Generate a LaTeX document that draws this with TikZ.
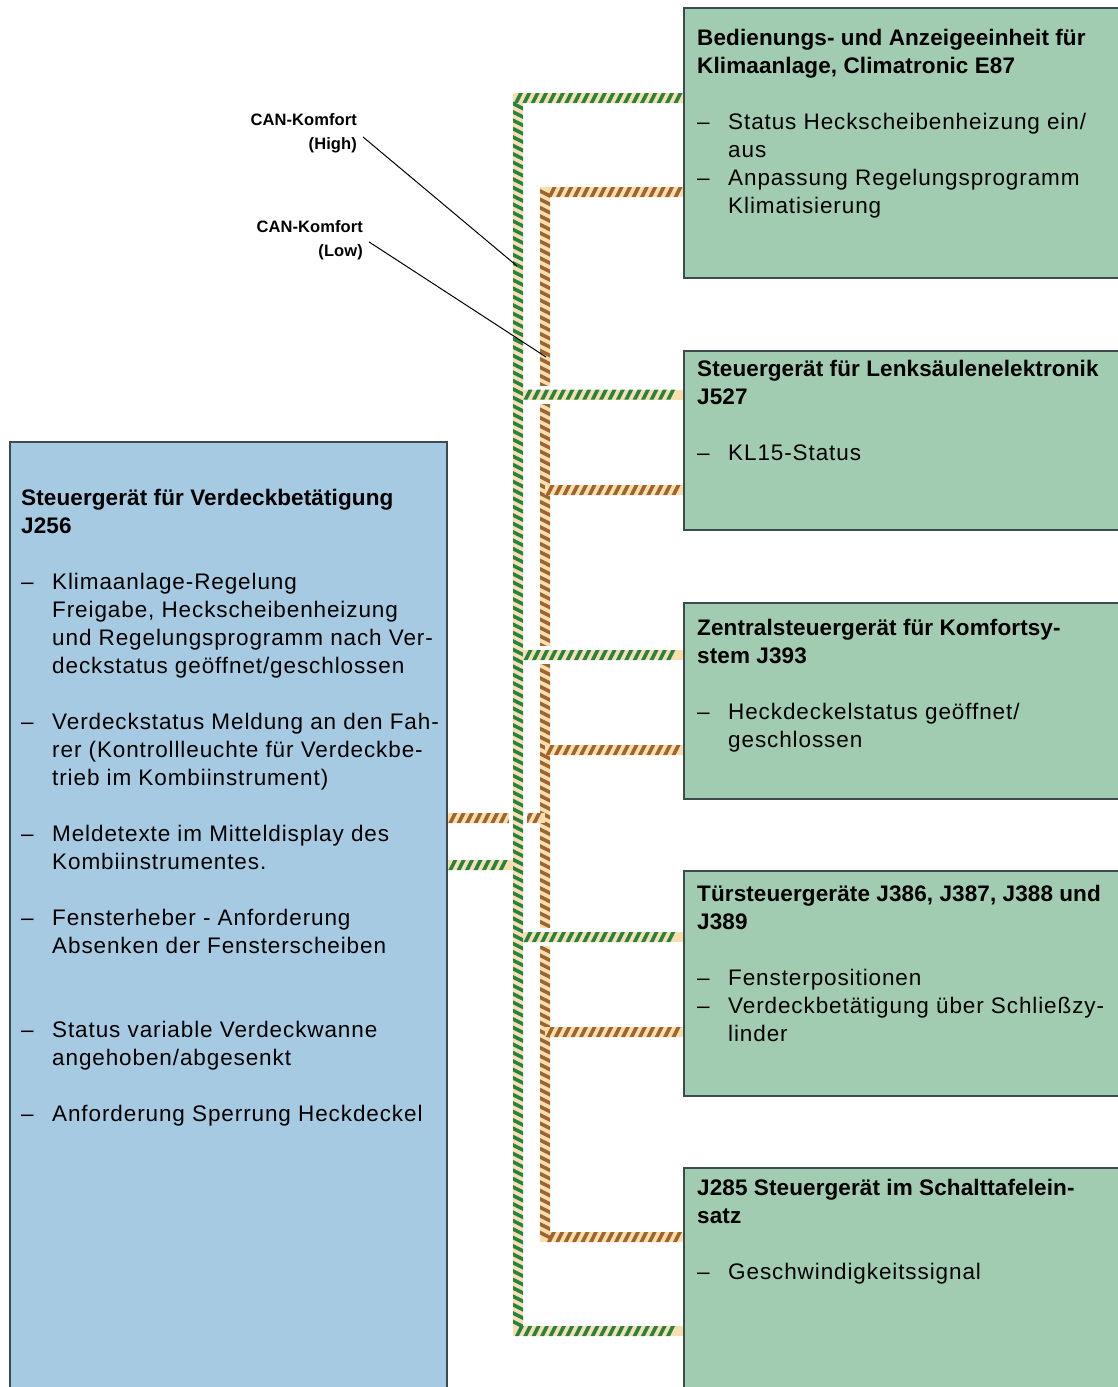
\documentclass[tikz,border=0pt]{standalone}
\usepackage{fontspec}
\setmainfont{Liberation Sans}[LetterSpace=4, BoldFeatures={LetterSpace=0.5}]
\usepackage{xcolor}
\usepackage{tikz}
\usetikzlibrary{positioning,decorations.markings}

\definecolor{cangreen}{RGB}{38,132,66}
\definecolor{canbrown}{RGB}{160,100,45}
\definecolor{canbeige}{RGB}{250,222,176}
\definecolor{ecugreen}{RGB}{161,204,177}
\definecolor{ecublue}{RGB}{165,202,225}
\definecolor{eculine}{RGB}{60,75,78}

\newcommand{\fl}{\rule{0pt}{21pt}}
\newcommand{\itm}{\makebox[31pt][l]{–}}
\newcommand{\cnt}{\hspace*{31pt}}

\pgfdeclarelayer{buslayer}
\pgfsetlayers{buslayer,main}

\begin{document}
\begin{tikzpicture}[
    x=1pt, y=-1pt,
    ecu/.style={rectangle, draw=eculine, line width=1.8pt, anchor=north west, inner sep=0pt},
    ecutxt/.style={anchor=north west, inner sep=0pt, align=left, font=\fontsize{22.5}{28}\selectfont},
    canlbl/.style={anchor=north east, inner sep=0pt, align=right, font=\fontsize{16.5}{24}\selectfont\bfseries},
    leader/.style={draw=black, line width=1pt},
    hibus/.style={draw=canbeige, line width=10pt, preaction={draw=white, line width=18pt},
        postaction={decorate, decoration={markings, mark=between positions 5pt and -5pt step 8.4pt with
        {\fill[cangreen] (-4.5pt,-5pt) -- (-0.5pt,-5pt) -- (4.5pt,5pt) -- (0.5pt,5pt) -- cycle;}}}},
    lobus/.style={draw=canbeige, line width=10pt,
        postaction={decorate, decoration={markings, mark=between positions 5pt and -5pt step 8.4pt with
        {\fill[canbrown] (-4.5pt,-5pt) -- (-0.5pt,-5pt) -- (4.5pt,5pt) -- (0.5pt,5pt) -- cycle;}}}}
]

\path[use as bounding box] (0,0) rectangle (1117,1387);

% Control units on the right
\node[ecu, fill=ecugreen, minimum width=460pt, minimum height=270pt] (e87) at (683,7) {};
\node[ecu, fill=ecugreen, minimum width=460pt, minimum height=179pt] (j527) at (683,350) {};
\node[ecu, fill=ecugreen, minimum width=460pt, minimum height=196pt] (j393) at (683,602) {};
\node[ecu, fill=ecugreen, minimum width=460pt, minimum height=225pt] (j386) at (683,870) {};
\node[ecu, fill=ecugreen, minimum width=460pt, minimum height=250pt] (j285) at (683,1167) {};

% Control unit J256 on the left
\node[ecu, fill=ecublue, minimum width=437pt, minimum height=980pt] (j256) at (9,441) {};

% Texts
\node[ecutxt] (e87-txt) at (697,24.5) {\fl\textbf{Bedienungs- und Anzeigeeinheit für}\\
    \textbf{Klimaanlage, Climatronic E87}\\[28pt]
    \itm Status Heckscheibenheizung ein/\\
    \cnt aus\\
    \itm Anpassung Regelungsprogramm\\
    \cnt Klimatisierung};
\node[ecutxt] (j527-txt) at (697,355) {\fl\textbf{Steuergerät für Lenksäulenelektronik}\\
    \textbf{J527}\\[28pt]
    \itm KL15-Status};
\node[ecutxt] (j393-txt) at (697,614) {\fl\textbf{Zentralsteuergerät für Komfortsy-}\\
    \textbf{stem J393}\\[28pt]
    \itm Heckdeckelstatus geöffnet/\\
    \cnt geschlossen};
\node[ecutxt] (j386-txt) at (697,880) {\fl\textbf{Türsteuergeräte J386, J387, J388 und}\\
    \textbf{J389}\\[28pt]
    \itm Fensterpositionen\\
    \itm Verdeckbetätigung über Schließzy-\\
    \cnt linder};
\node[ecutxt] (j285-txt) at (697,1174) {\fl\textbf{J285 Steuergerät im Schalttafelein-}\\
    \textbf{satz}\\[28pt]
    \itm Geschwindigkeitssignal};
\node[ecutxt] (j256-txt) at (21,484) {\fl\textbf{Steuergerät für Verdeckbetätigung}\\
    \textbf{J256}\\[28pt]
    \itm Klimaanlage-Regelung\\
    \cnt Freigabe, Heckscheibenheizung\\
    \cnt und Regelungsprogramm nach Ver-\\
    \cnt deckstatus geöffnet/geschlossen\\[28pt]
    \itm Verdeckstatus Meldung an den Fah-\\
    \cnt rer (Kontrollleuchte für Verdeckbe-\\
    \cnt trieb im Kombiinstrument)\\[28pt]
    \itm Meldetexte im Mitteldisplay des\\
    \cnt Kombiinstrumentes.\\[28pt]
    \itm Fensterheber - Anforderung\\
    \cnt Absenken der Fensterscheiben\\[56pt]
    \itm Status variable Verdeckwanne\\
    \cnt angehoben/abgesenkt\\[28pt]
    \itm Anforderung Sperrung Heckdeckel};

% CAN bus
\coordinate (hi-top) at (518,98);
\coordinate (hi-bot) at (518,1331);
\coordinate (lo-top) at (545,192);
\coordinate (lo-bot) at (545,1237);

\begin{pgfonlayer}{buslayer}
% Low line (brown)
\draw[lobus] (e87.west |- lo-top) -- (lo-top) -- (lo-bot) -- (j285.west |- lo-bot);
\foreach \y/\ecu in {490/j527, 750/j393, 1032/j386}
    \draw[lobus] (545,\y) -- (\ecu.west |- 545,\y);
\draw[lobus] (j256.east |- 545,818) -- (545,818);
% High line (green)
\draw[hibus] (e87.west |- hi-top) -- (hi-top) -- (hi-bot) -- (j285.west |- hi-bot);
\foreach \y/\ecu in {394.5/j527, 655/j393, 937/j386}
    \draw[hibus] (523,\y) -- (\ecu.west |- 523,\y);
\draw[hibus] (j256.east |- 513,865) -- (513,865);
\end{pgfonlayer}

% Labels
\node[canlbl] (hi-lbl) at (357,109) {\rule{0pt}{16pt}CAN-Komfort\\(High)};
\node[canlbl] (lo-lbl) at (363,216) {\rule{0pt}{16pt}CAN-Komfort\\(Low)};
\coordinate (hi-tap) at (517,266);
\coordinate (lo-tap) at (546,357);
\draw[leader] ([xshift=6pt,yshift=-6pt]hi-lbl.east) -- (hi-tap);
\draw[leader] ([xshift=6pt,yshift=-4pt]lo-lbl.east) -- (lo-tap);

\end{tikzpicture}
\end{document}
